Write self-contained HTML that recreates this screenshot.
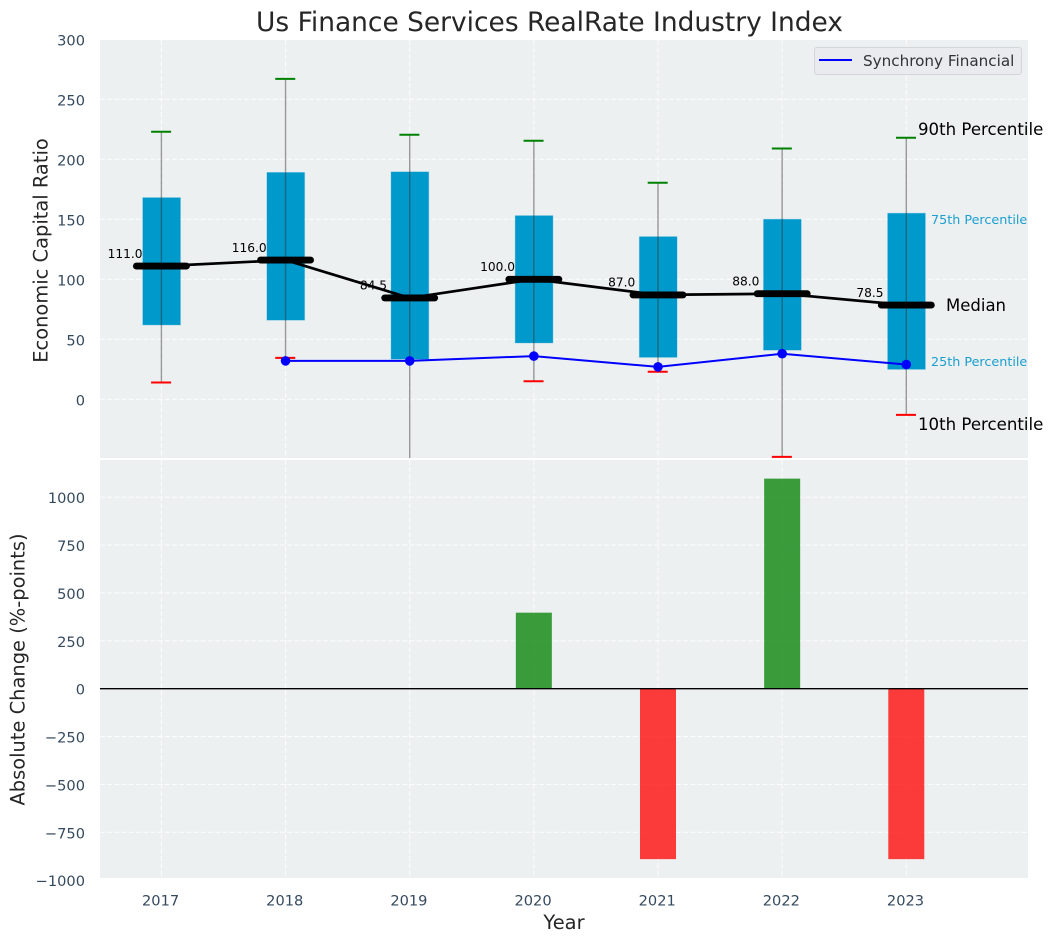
<!DOCTYPE html>
<html>
<head>
<meta charset="utf-8">
<title>Us Finance Services RealRate Industry Index</title>
<style>
html,body{margin:0;padding:0;background:#fff;}
svg{display:block;font-family:"DejaVu Sans","Liberation Sans",sans-serif;}
</style>
</head>
<body>
<svg id="chart" xmlns="http://www.w3.org/2000/svg" width="1053" height="942" viewBox="0 0 1053 942">
  <defs>
    <clipPath id="top-clip"><rect x="100" y="40" width="928" height="418"/></clipPath>
    <clipPath id="bot-clip"><rect x="100" y="460" width="928" height="418"/></clipPath>
  </defs>
  <rect x="100" y="40" width="928" height="418" fill="#ecf0f1"/>
  <rect x="100" y="460" width="928" height="418" fill="#ecf0f1"/>
  <g id="top-grid" clip-path="url(#top-clip)"></g>
  <g id="bot-grid" clip-path="url(#bot-clip)"></g>
  <g id="top-marks" clip-path="url(#top-clip)"></g>
  <g id="bot-marks" clip-path="url(#bot-clip)"></g>
  <g id="tick-labels"></g>

  <text x="549.5" y="31" text-anchor="middle" font-size="26.45" fill="#262626">Us Finance Services RealRate Industry Index</text>
  <text transform="translate(47.5,250.5) rotate(-90)" text-anchor="middle" font-size="19.45" fill="#262626">Economic Capital Ratio</text>
  <text transform="translate(24.5,669.5) rotate(-90)" text-anchor="middle" font-size="19.45" fill="#262626">Absolute Change (%-points)</text>
  <text x="564" y="929" text-anchor="middle" font-size="19.45" fill="#262626">Year</text>

  <text x="918" y="135" font-size="16.6" fill="#000">90th Percentile</text>
  <text x="931" y="224" font-size="12.75" fill="#1a9fcf">75th Percentile</text>
  <text x="946" y="311" font-size="16.5" fill="#000">Median</text>
  <text x="931" y="366" font-size="12.75" fill="#1a9fcf">25th Percentile</text>
  <text x="918" y="430" font-size="16.6" fill="#000">10th Percentile</text>

  <g>
    <rect x="814.5" y="47.5" width="207" height="27" rx="2.5" fill="#e9ebef" stroke="#d3d5d8" stroke-width="1"/>
    <line x1="819" y1="60" x2="852" y2="60" stroke="#0000ff" stroke-width="2"/>
    <text x="863" y="66" font-size="15.2" fill="#333">Synchrony Financial</text>
  </g>
</svg>
<script>
const years = ["2017","2018","2019","2020","2021","2022","2023"];
const p10 = [14, 34.5, -60, 15, 23, -48, -13];
const p25 = [62, 66, 33.5, 47, 35, 41, 25];
const medians = [111, 116, 84.5, 100, 87, 88, 78.5];
const p75 = [168, 189, 189.5, 153, 135.5, 150, 155];
const p90 = [223, 267, 220.5, 215.5, 180.5, 209, 218];
const companyValues = [null, 32, 32, 36, 27, 38, 29];
const changeValues = [0, 0, 0, 397, -890, 1097, -890];
const topTicks = [0, 50, 100, 150, 200, 250, 300];
const bottomTicks = [-1000, -750, -500, -250, 0, 250, 500, 750, 1000];

const NS = "http://www.w3.org/2000/svg";
function xPos(i){ return 161.4 + 124.15 * i; }
function yTop(v){ return 399.3 - 1.2 * v; }
function yBot(v){ return 688.7 - 0.1915 * v; }
function make(tag, parent, props){
  const el = document.createElementNS(NS, tag);
  for (const k in props) el.setAttribute(k, props[k]);
  parent.appendChild(el);
  return el;
}
const topGrid = document.getElementById("top-grid");
const botGrid = document.getElementById("bot-grid");
const topMarks = document.getElementById("top-marks");
const botMarks = document.getElementById("bot-marks");
const tickLabels = document.getElementById("tick-labels");
const gridStyle = {stroke:"#ffffff","stroke-width":1.1,"stroke-dasharray":"5 2.2","stroke-opacity":0.8};

topTicks.forEach(function(t){
  const g = make("line", topGrid, Object.assign({x1:100,x2:1028,y1:yTop(t),y2:yTop(t)}, gridStyle));
  
  
  const l = make("text", tickLabels, {x:85,y:yTop(t)+6,"text-anchor":"end","font-size":14.6,fill:"#34495e"});
  l.textContent = String(t);
  
  
});
bottomTicks.forEach(function(t){
  const g = make("line", botGrid, Object.assign({x1:100,x2:1028,y1:yBot(t),y2:yBot(t)}, gridStyle));
  
  
  const l = make("text", tickLabels, {x:85,y:yBot(t)+6,"text-anchor":"end","font-size":14.6,fill:"#34495e"});
  l.textContent = String(t).replace("-", "\u2212");
  
  
});
years.forEach(function(y, i){
  const a = make("line", topGrid, Object.assign({x1:xPos(i),x2:xPos(i),y1:40,y2:458}, gridStyle));
  
  
  const b = make("line", botGrid, Object.assign({x1:xPos(i),x2:xPos(i),y1:460,y2:878}, gridStyle));
  
  
  const l = make("text", tickLabels, {x:xPos(i)-0.8,y:905.5,"text-anchor":"middle","font-size":14.6,fill:"#34495e"});
  l.textContent = y;
  
  
});

/* boxes */
years.forEach(function(y, i){
  const box = make("rect", topMarks, {x:xPos(i)-18.6,width:37.6,y:yTop(p75[i]),height:yTop(p25[i])-yTop(p75[i]),fill:"#0099cc",stroke:"#0099cc","stroke-opacity":0.3,"stroke-width":1});
  
  
});
/* whiskers */
years.forEach(function(y, i){
  const w = make("line", topMarks, {x1:xPos(i),x2:xPos(i),y1:yTop(p90[i]),y2:yTop(p10[i]),stroke:"#333333","stroke-opacity":0.48,"stroke-width":1.4});
  
  
  const hi = make("line", topMarks, {x1:xPos(i)-10.3,x2:xPos(i)+9.7,y1:yTop(p90[i]),y2:yTop(p90[i]),stroke:"#008000","stroke-width":2});
  
  
  const lo = make("line", topMarks, {x1:xPos(i)-10.3,x2:xPos(i)+9.7,y1:yTop(p10[i]),y2:yTop(p10[i]),stroke:"#ff0000","stroke-width":2});
  
  
});
/* median labels under the line */
years.forEach(function(y, i){
  const t = make("text", topMarks, {x:xPos(i)-36.3,y:yTop(medians[i])-8.3,"text-anchor":"middle","font-size":12.2,fill:"#000"});
  t.textContent = medians[i].toFixed(1);
  
  
});
/* median connecting line */
const medLine = make("polyline", topMarks, {points:medians.map(function(m,i){return xPos(i)+","+yTop(m);}).join(" "),fill:"none",stroke:"#000","stroke-width":2.7});


years.forEach(function(y, i){
  const m = make("line", topMarks, {x1:xPos(i)-25,x2:xPos(i)+25,y1:yTop(medians[i]),y2:yTop(medians[i]),stroke:"#000","stroke-width":6.9,"stroke-linecap":"round"});
  
  
});
/* company series */
const pts = [];
companyValues.forEach(function(v,i){ if (v !== null) pts.push(xPos(i)+","+yTop(v)); });
const compLine = make("polyline", topMarks, {points:pts.join(" "),fill:"none",stroke:"#0000ff","stroke-width":2});


companyValues.forEach(function(v,i){
  if (v === null) return;
  const c = make("circle", topMarks, {cx:xPos(i),cy:yTop(v),r:4.8,fill:"#0000ff"});
  
  
});
/* change bars */
changeValues.forEach(function(v,i){
  if (!v) return;
  const top = Math.min(yBot(v), yBot(0));
  const h = Math.abs(yBot(v) - yBot(0));
  const b = make("rect", botMarks, {x:xPos(i)-18,width:36,y:top,height:h,fill:v>0?"#008000":"#ff0000","fill-opacity":0.76});
  
  
});
const zero = make("line", botMarks, {x1:100,x2:1028,y1:yBot(0),y2:yBot(0),stroke:"#000","stroke-width":1.3});


</script>
</body>
</html>
